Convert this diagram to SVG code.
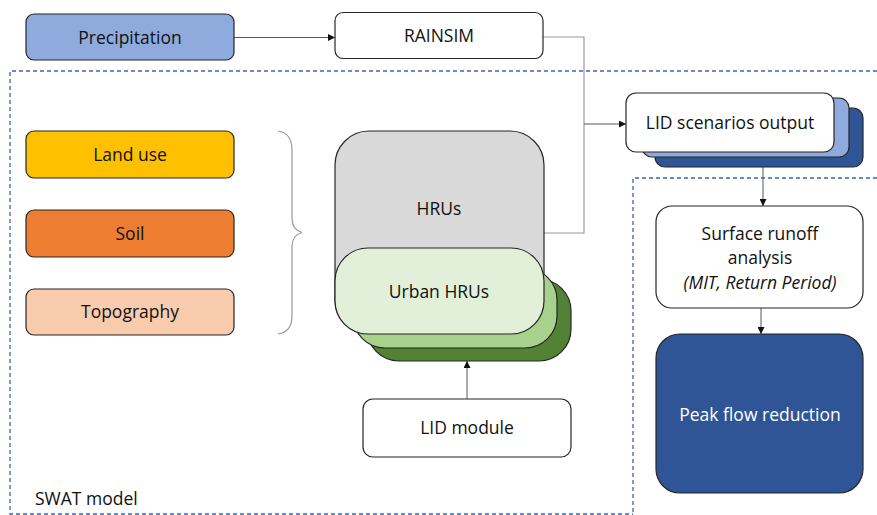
<svg xmlns="http://www.w3.org/2000/svg" width="877" height="515" viewBox="0 0 877 515">
<style>
.box{stroke:#262626;stroke-width:1.2}
.t{font-family:"Open Sans","Liberation Sans",sans-serif;font-size:17.5px;fill:#111;text-anchor:middle}
.dash{fill:none;stroke:#3a64b0;stroke-width:1.3;stroke-dasharray:4 3}
.conn{fill:none;stroke:#595959;stroke-width:1}
.grey{fill:none;stroke:#9a9a9a;stroke-width:1.2}
</style>
<defs>
<marker id="ah" viewBox="0 0 10 10" refX="10" refY="5" markerWidth="7" markerHeight="7" markerUnits="userSpaceOnUse" orient="auto">
<path d="M0,0 L10,5 L0,10 z" fill="#111"/>
</marker>
</defs>
<rect width="877" height="515" fill="#fff"/>

<g id="swat-boundary">
<path class="dash" d="M877,71 H10 V514 H633"/>
<text class="t" x="35" y="505" style="text-anchor:start">SWAT model</text>
</g>
<g id="analysis-boundary">
<path class="dash" d="M877,178 H633 V514"/>
</g>

<g id="connectors">
<line class="conn" x1="234" y1="37.5" x2="335" y2="37.5" marker-end="url(#ah)"/>
<path class="grey" d="M543,37 H584 V233 H544"/>
<line class="conn" x1="584" y1="124" x2="626" y2="124" marker-end="url(#ah)"/>
<line class="conn" x1="763" y1="167" x2="763" y2="206" marker-end="url(#ah)"/>
<line class="conn" x1="761" y1="308" x2="761" y2="334" marker-end="url(#ah)"/>
<line class="conn" x1="467" y1="399" x2="467" y2="361" marker-end="url(#ah)"/>
<path class="grey" d="M278,131 Q292,133 292,150 V218 Q292,230 302,232.5 Q292,235 292,247 V316 Q292,332 278,334"/>
</g>

<g id="precipitation">
<rect class="box" x="26" y="14" width="208" height="46" rx="8" fill="#8faadc"/>
<text class="t" x="130" y="43.5">Precipitation</text>
</g>
<g id="rainsim">
<rect class="box" x="335" y="12.5" width="208" height="46" rx="8" fill="#fff"/>
<text class="t" x="439" y="42">RAINSIM</text>
</g>

<g id="land-use">
<rect class="box" x="26" y="131" width="208" height="47" rx="8" fill="#ffc000"/>
<text class="t" x="130" y="160.5">Land use</text>
</g>
<g id="soil">
<rect class="box" x="26" y="210" width="208" height="47" rx="8" fill="#ed7d31"/>
<text class="t" x="130" y="239.5">Soil</text>
</g>
<g id="topography">
<rect class="box" x="26" y="289" width="208" height="46" rx="8" fill="#f8cbad"/>
<text class="t" x="130" y="318">Topography</text>
</g>

<g id="hrus">
<rect class="box" x="335" y="131" width="209" height="203" rx="34" fill="#d9d9d9"/>
<text class="t" x="439" y="215">HRUs</text>
</g>
<g id="urban-hrus">
<rect class="box" x="367" y="279" width="204" height="82" rx="32" fill="#548235"/>
<rect class="box" x="353" y="268" width="204" height="80" rx="32" fill="#a9d18e"/>
<rect class="box" x="335" y="248" width="209" height="86" rx="33" fill="#e2f0d9"/>
<text class="t" x="439" y="298">Urban HRUs</text>
</g>

<g id="lid-module">
<rect class="box" x="363" y="399" width="208" height="58" rx="10" fill="#fff"/>
<text class="t" x="467" y="434">LID module</text>
</g>

<g id="lid-scenarios-output">
<rect class="box" x="655" y="108" width="208" height="59" rx="10" fill="#2f5597"/>
<rect class="box" x="642" y="98" width="207" height="59" rx="10" fill="#8faadc"/>
<rect class="box" x="626" y="93" width="208" height="59" rx="10" fill="#fff"/>
<text class="t" x="730" y="129">LID scenarios output</text>
</g>

<g id="surface-runoff">
<rect class="box" x="656" y="206" width="207" height="102" rx="16" fill="#fff"/>
<text class="t" x="760" y="240">Surface runoff</text>
<text class="t" x="760" y="264">analysis</text>
<text class="t" x="760" y="289" font-style="italic">(MIT, Return Period)</text>
</g>

<g id="peak-flow">
<rect class="box" x="656" y="334" width="207" height="159" rx="24" fill="#2f5597"/>
<text class="t" x="760" y="421" style="fill:#fff">Peak flow reduction</text>
</g>
</svg>
